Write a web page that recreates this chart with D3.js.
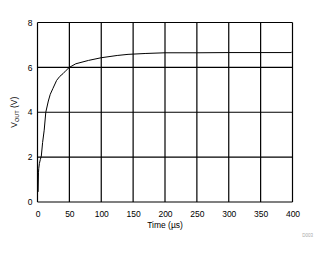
<!DOCTYPE html>
<html>
<head>
<meta charset="utf-8">
<script src="https://cdn.jsdelivr.net/npm/d3@7"></script>
<style>
  body { margin: 0; background: #fff; }
  text { font-family: "Liberation Sans", Arial, sans-serif; }
</style>
</head>
<body>
<div id="chart"></div>
<script>
// данные
const timeUs = [1, 1.5, 2, 3, 4.5, 6, 8, 10.5, 13, 17, 20, 24, 30, 35, 40, 45, 50, 60, 80, 100, 125, 142, 170, 200, 250, 300, 350, 398, 400];
const vout = [0.45, 1.3, 1.5, 1.72, 1.9, 2.05, 2.65, 3.2, 4.0, 4.5, 4.8, 5.05, 5.42, 5.6, 5.72, 5.87, 6.0, 6.16, 6.31, 6.43, 6.53, 6.58, 6.62, 6.65, 6.65, 6.66, 6.66, 6.66, 6.72];
const xTicks = [0, 50, 100, 150, 200, 250, 300, 350, 400];
const yTicks = [0, 2, 4, 6, 8];

const width = 325, height = 254;
const margin = { left: 37.5, right: 32.5, top: 22.5, bottom: 52 };

const svg = d3.select("#chart").append("svg")
    .attr("width", width)
    .attr("height", height);

const x = d3.scaleLinear().domain([0, 400]).range([margin.left, width - margin.right]);
const y = d3.scaleLinear().domain([0, 8]).range([height - margin.bottom, margin.top]);

// сетка
const grid = svg.append("g").attr("stroke", "#000").attr("stroke-width", 1.2);
grid.selectAll("line.v").data(xTicks).enter().append("line")
    .attr("x1", d => x(d)).attr("x2", d => x(d))
    .attr("y1", y(0)).attr("y2", y(8));
grid.selectAll("line.h").data(yTicks).enter().append("line")
    .attr("x1", x(0)).attr("x2", x(400))
    .attr("y1", d => y(d)).attr("y2", d => y(d));

// подписи осей
const xAxis = d3.axisBottom(x).tickValues(xTicks).tickSize(0).tickPadding(9);
svg.append("g")
    .attr("transform", `translate(0,${y(0)})`)
    .call(xAxis)
    .call(g => g.select(".domain").remove())
    .selectAll("text").attr("font-size", "8.5px").attr("fill", "#000");

const yAxis = d3.axisLeft(y).tickValues(yTicks).tickSize(0).tickPadding(5);
svg.append("g")
    .attr("transform", `translate(${x(0)},0)`)
    .call(yAxis)
    .call(g => g.select(".domain").remove())
    .selectAll("text").attr("font-size", "8.5px").attr("fill", "#000");

// кривая
const line = d3.line().x((d, i) => x(timeUs[i])).y(d => y(d));
svg.append("path")
    .datum(vout)
    .attr("fill", "none")
    .attr("stroke", "#000")
    .attr("stroke-width", 1)
    .attr("d", line);

// заголовки осей
svg.append("text")
    .attr("x", (x(0) + x(400)) / 2)
    .attr("y", 228)
    .attr("text-anchor", "middle")
    .attr("font-size", "8.5px")
    .text("Time (µs)");

const yl = svg.append("text")
    .attr("transform", `translate(17,${(y(0) + y(8)) / 2}) rotate(-90)`)
    .attr("text-anchor", "middle")
    .attr("font-size", "8.5px");
yl.append("tspan").text("V");
yl.append("tspan").attr("font-size", "5.5px").attr("dy", "2").text("OUT");
yl.append("tspan").attr("dy", "-2").text(" (V)");

svg.append("text")
    .attr("x", 313)
    .attr("y", 237)
    .attr("text-anchor", "end")
    .attr("font-size", "4.5px")
    .attr("fill", "#aaa")
    .text("D003");
</script>
</body>
</html>
